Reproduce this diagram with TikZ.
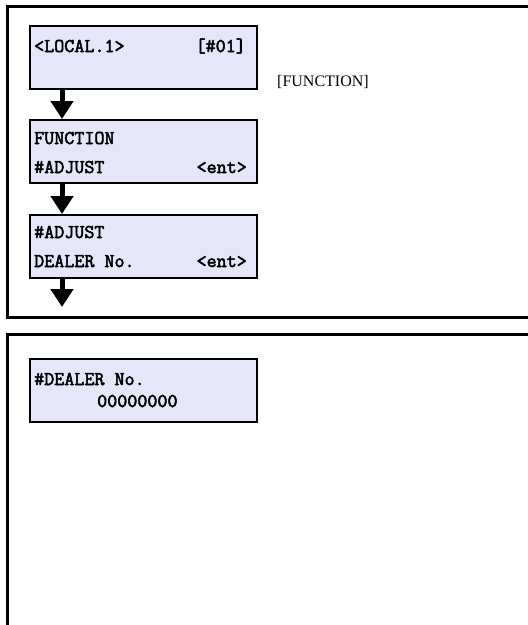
\documentclass[tikz,border=0pt]{standalone}
\usepackage{fontspec}
\setmainfont{Liberation Serif}
\newfontfamily\lcdfont[FakeBold=2.6]{Latin Modern Mono}
\usetikzlibrary{arrows.meta}
\definecolor{lcdfill}{RGB}{230,230,250}
\tikzset{
  frame/.style={draw=black,line width=3pt},
  lcdbox/.style={draw=black,line width=2pt,fill=lcdfill,minimum width=227pt,minimum height=63pt,inner sep=0pt},
  lcdtext/.style={inner sep=0pt,font=\lcdfont\fontsize{19.5pt}{22pt}\selectfont},
  flowarrow/.style={line width=5pt,-{Triangle[width=22pt,length=18pt]}},
  note/.style={inner sep=0pt,font=\fontsize{16pt}{19pt}\selectfont}
}
\begin{document}
\begin{tikzpicture}[x=1pt,y=-1pt]
\clip (0,0) rectangle (528,625);
\fill[white] (0,0) rectangle (528,625);
% frames
\draw[frame] (7.5,6) rectangle (545,317.5);
\draw[frame] (7.5,334.5) rectangle (545,650);
% boxes
\node[lcdbox] (box1) at (143.5,57) {};
\node[lcdbox] (box2) at (143.5,151.5) {};
\node[lcdbox] (box3) at (143.5,246.5) {};
\node[lcdbox] (box4) at (143.5,390.5) {};
% texts
\node[lcdtext,anchor=base west] (t1a) at (34,52) {<LOCAL.1>};
\node[lcdtext,anchor=base east] (t1b) at (246,52) {[\#01]};
\node[lcdtext,anchor=base west] (t2a) at (34,144) {FUNCTION};
\node[lcdtext,anchor=base west] (t2b) at (34,173) {\#ADJUST};
\node[lcdtext,anchor=base east] (t2c) at (247,173) {<ent>};
\node[lcdtext,anchor=base west] (t3a) at (34,238) {\#ADJUST};
\node[lcdtext,anchor=base west] (t3b) at (34,267) {DEALER No.};
\node[lcdtext,anchor=base east] (t3c) at (247,267) {<ent>};
\node[lcdtext,anchor=base west] (t4a) at (34,385) {\#DEALER No.};
\node[lcdtext,anchor=base west] (t4b) at (97,407) {00000000};
\node[note,anchor=base west] (fn) at (277,86) {[FUNCTION]};
% arrows
\coordinate (end3) at (62,307);
\draw[flowarrow] ([xshift=-81.5pt]box1.south) -- ([xshift=-81.5pt]box2.north);
\draw[flowarrow] ([xshift=-81.5pt]box2.south) -- ([xshift=-81.5pt]box3.north);
\draw[flowarrow] ([xshift=-81.5pt]box3.south) -- (end3);
\end{tikzpicture}
\end{document}
